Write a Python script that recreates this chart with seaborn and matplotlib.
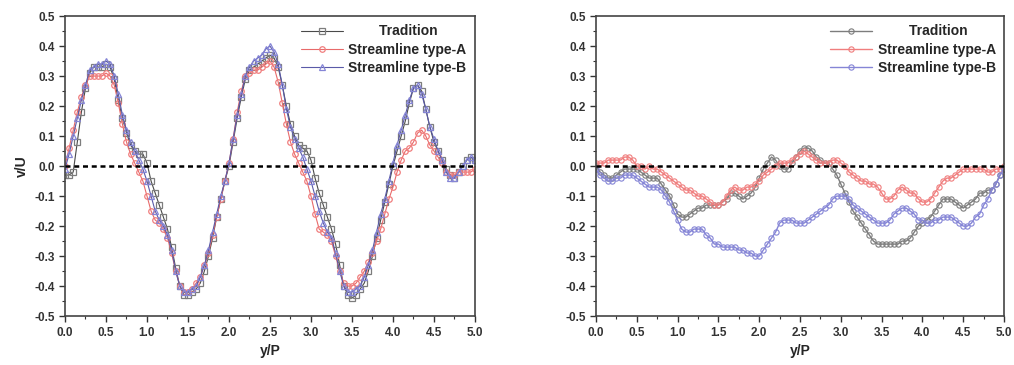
import numpy as np
import pandas as pd
import seaborn as sns
import matplotlib.pyplot as plt
from matplotlib.ticker import MultipleLocator

sns.set_theme(style="ticks")
plt.rcParams['font.family'] = ['Liberation Sans', 'DejaVu Sans']

# y/P positions (step 0.05 from 0 to 5)
y_p = [round(0.05 * i, 2) for i in range(101)]

# left panel
left_tradition = [
    -0.03, -0.03, -0.02, 0.08, 0.18, 0.26, 0.31, 0.33, 0.33, 0.33,
    0.34, 0.33, 0.29, 0.22, 0.16, 0.11, 0.07, 0.05, 0.04, 0.04,
    0.01, -0.05, -0.09, -0.13, -0.17, -0.21, -0.27, -0.34, -0.40, -0.43,
    -0.43, -0.42, -0.41, -0.39, -0.35, -0.30, -0.24, -0.17, -0.11, -0.05,
    0.00, 0.08, 0.16, 0.23, 0.29, 0.32, 0.33, 0.34, 0.35, 0.36,
    0.37, 0.36, 0.33, 0.27, 0.20, 0.14, 0.10, 0.07, 0.06, 0.05,
    0.02, -0.04, -0.09, -0.13, -0.17, -0.21, -0.26, -0.33, -0.40, -0.43,
    -0.44, -0.43, -0.41, -0.39, -0.35, -0.30, -0.24, -0.18, -0.12, -0.06,
    0.00, 0.05, 0.10, 0.15, 0.21, 0.26, 0.27, 0.25, 0.19, 0.13,
    0.08, 0.05, 0.02, -0.01, -0.03, -0.04, -0.02, 0.00, 0.02, 0.03,
    0.02]
left_type_a = [
    0.00, 0.06, 0.12, 0.18, 0.23, 0.27, 0.30, 0.30, 0.30, 0.30,
    0.31, 0.30, 0.27, 0.21, 0.14, 0.08, 0.04, 0.01, -0.02, -0.05,
    -0.10, -0.15, -0.18, -0.19, -0.21, -0.24, -0.29, -0.35, -0.40, -0.42,
    -0.42, -0.41, -0.39, -0.37, -0.33, -0.29, -0.23, -0.17, -0.11, -0.05,
    0.01, 0.09, 0.18, 0.25, 0.30, 0.31, 0.32, 0.32, 0.33, 0.34,
    0.35, 0.33, 0.28, 0.21, 0.14, 0.08, 0.04, 0.01, -0.02, -0.05,
    -0.10, -0.16, -0.21, -0.22, -0.23, -0.25, -0.30, -0.35, -0.39, -0.40,
    -0.40, -0.39, -0.37, -0.35, -0.32, -0.29, -0.25, -0.21, -0.16, -0.11,
    -0.07, -0.02, 0.02, 0.05, 0.06, 0.08, 0.11, 0.12, 0.10, 0.07,
    0.05, 0.03, 0.01, -0.02, -0.03, -0.03, -0.02, -0.02, -0.02, -0.02,
    -0.01]
left_type_b = [
    -0.01, 0.04, 0.10, 0.16, 0.22, 0.27, 0.32, 0.33, 0.34, 0.34,
    0.35, 0.34, 0.30, 0.24, 0.17, 0.12, 0.08, 0.05, 0.02, -0.01,
    -0.05, -0.10, -0.15, -0.18, -0.20, -0.23, -0.28, -0.35, -0.40, -0.42,
    -0.42, -0.41, -0.40, -0.37, -0.33, -0.28, -0.22, -0.16, -0.10, -0.05,
    0.01, 0.09, 0.17, 0.24, 0.30, 0.33, 0.35, 0.36, 0.37, 0.39,
    0.40, 0.38, 0.34, 0.27, 0.19, 0.13, 0.09, 0.06, 0.03, -0.01,
    -0.05, -0.10, -0.15, -0.19, -0.22, -0.24, -0.29, -0.35, -0.40, -0.42,
    -0.42, -0.41, -0.40, -0.37, -0.33, -0.28, -0.22, -0.16, -0.11, -0.05,
    0.01, 0.07, 0.12, 0.17, 0.22, 0.26, 0.27, 0.24, 0.19, 0.13,
    0.09, 0.05, 0.02, -0.02, -0.04, -0.04, -0.02, 0.00, 0.02, 0.03,
    0.02]

# right panel
right_tradition = [
    0.00, -0.02, -0.03, -0.04, -0.04, -0.03, -0.02, -0.01, -0.01, -0.01,
    -0.01, -0.02, -0.03, -0.04, -0.04, -0.04, -0.06, -0.08, -0.10, -0.13,
    -0.16, -0.17, -0.17, -0.16, -0.15, -0.14, -0.14, -0.13, -0.13, -0.13,
    -0.13, -0.12, -0.11, -0.09, -0.09, -0.10, -0.11, -0.10, -0.09, -0.07,
    -0.04, -0.01, 0.01, 0.03, 0.02, 0.00, -0.01, -0.01, 0.01, 0.03,
    0.05, 0.06, 0.06, 0.05, 0.03, 0.02, 0.01, 0.01, -0.01, -0.03,
    -0.06, -0.09, -0.12, -0.15, -0.17, -0.19, -0.21, -0.23, -0.25, -0.26,
    -0.26, -0.26, -0.26, -0.26, -0.26, -0.25, -0.25, -0.24, -0.22, -0.20,
    -0.19, -0.18, -0.17, -0.15, -0.13, -0.11, -0.11, -0.11, -0.12, -0.13,
    -0.14, -0.13, -0.12, -0.11, -0.09, -0.09, -0.08, -0.08, -0.06, -0.03,
    -0.01]
right_type_a = [
    0.01, 0.01, 0.01, 0.02, 0.02, 0.02, 0.02, 0.03, 0.03, 0.02,
    0.00, 0.00, -0.01, 0.00, -0.01, -0.01, -0.02, -0.03, -0.04, -0.05,
    -0.06, -0.07, -0.08, -0.08, -0.09, -0.10, -0.10, -0.11, -0.12, -0.13,
    -0.13, -0.12, -0.10, -0.08, -0.07, -0.08, -0.08, -0.07, -0.07, -0.06,
    -0.05, -0.03, -0.02, -0.01, 0.00, 0.01, 0.01, 0.01, 0.02, 0.03,
    0.04, 0.05, 0.04, 0.03, 0.02, 0.01, 0.01, 0.01, 0.02, 0.02,
    0.01, 0.00, -0.02, -0.03, -0.04, -0.05, -0.05, -0.06, -0.06, -0.07,
    -0.09, -0.11, -0.11, -0.10, -0.08, -0.07, -0.08, -0.09, -0.09, -0.11,
    -0.12, -0.12, -0.11, -0.09, -0.07, -0.05, -0.04, -0.04, -0.03, -0.02,
    -0.01, -0.01, -0.01, -0.01, -0.01, -0.01, -0.02, -0.02, -0.01, -0.01,
    0.00]
right_type_b = [
    -0.01, -0.03, -0.04, -0.05, -0.05, -0.04, -0.04, -0.03, -0.03, -0.03,
    -0.04, -0.05, -0.06, -0.07, -0.07, -0.07, -0.08, -0.10, -0.12, -0.15,
    -0.18, -0.21, -0.22, -0.22, -0.21, -0.21, -0.21, -0.23, -0.24, -0.26,
    -0.26, -0.27, -0.27, -0.27, -0.27, -0.28, -0.28, -0.29, -0.29, -0.30,
    -0.30, -0.28, -0.26, -0.24, -0.22, -0.19, -0.18, -0.18, -0.18, -0.19,
    -0.19, -0.19, -0.18, -0.17, -0.16, -0.15, -0.14, -0.13, -0.11, -0.10,
    -0.10, -0.10, -0.11, -0.13, -0.14, -0.15, -0.16, -0.17, -0.18, -0.19,
    -0.19, -0.19, -0.18, -0.16, -0.15, -0.14, -0.14, -0.15, -0.16, -0.18,
    -0.18, -0.19, -0.19, -0.18, -0.18, -0.17, -0.17, -0.17, -0.18, -0.19,
    -0.20, -0.20, -0.19, -0.17, -0.16, -0.13, -0.11, -0.08, -0.06, -0.03,
    -0.01]

labels = ["Tradition", "Streamline type-A", "Streamline type-B"]
edge_colors = ["#7d7d7d", "#f07e7e", "#8585d6"]
line_colors = ["#4a4a4a", "#e86a6a", "#5a5aa8"]
left_markers = ["s", "o", "^"]

fig = plt.figure(figsize=(10.14, 3.65), dpi=100)
ax1 = fig.add_axes([0.0641, 0.134, 0.4043, 0.822])
ax2 = fig.add_axes([0.5878, 0.134, 0.4024, 0.822])

for ys, lab, ec, lc, mk in zip([left_tradition, left_type_a, left_type_b],
                               labels, edge_colors, line_colors, left_markers):
    sns.lineplot(x=y_p, y=ys, ax=ax1, color=lc, lw=0.8, label=lab,
                 marker=mk, markersize=4, markerfacecolor="none",
                 markeredgecolor=ec, markeredgewidth=0.9)

for ys, lab, ec, lc in zip([right_tradition, right_type_a, right_type_b],
                           labels, edge_colors, line_colors):
    sns.lineplot(x=y_p, y=ys, ax=ax2, color=ec, lw=1.0, label=lab,
                 marker="o", markersize=3.8, markerfacecolor="none",
                 markeredgecolor=ec, markeredgewidth=0.8)

for ax in (ax1, ax2):
    ax.axhline(0, color="black", ls=(0, (2, 1.5)), lw=1.8, zorder=5)
    ax.set_xlim(0, 5)
    ax.set_ylim(-0.5, 0.5)
    ax.xaxis.set_major_locator(MultipleLocator(0.5))
    ax.xaxis.set_minor_locator(MultipleLocator(0.25))
    ax.yaxis.set_major_locator(MultipleLocator(0.1))
    ax.yaxis.set_minor_locator(MultipleLocator(0.05))
    ax.tick_params(which="major", direction="out", length=4, width=1,
                   labelsize=8.5, colors="#333333")
    ax.tick_params(which="minor", direction="out", length=2.5, width=0.8,
                   colors="#333333")
    ax.set_xticklabels([f"{v:.1f}" for v in ax.get_xticks()], fontweight="bold")
    ax.set_yticklabels([f"{v:.1f}" for v in ax.get_yticks()], fontweight="bold")
    for sp in ax.spines.values():
        sp.set_visible(True)
        sp.set_color("#444444")
        sp.set_linewidth(1.2)
    ax.set_xlabel("y/P", fontsize=10, fontweight="bold")
    leg = ax.legend(loc="upper right", frameon=False, handlelength=3,
                    borderaxespad=0.2, labelspacing=0.3, handletextpad=0.4,
                    prop={"weight": "bold", "size": 10})
    # the original centres the short label in the legend column
    leg.get_texts()[0].set_text("        Tradition")

ax1.set_ylabel("v/U", fontsize=10, fontweight="bold")
ax2.set_ylabel("")

fig.savefig("out.png", dpi=100)
